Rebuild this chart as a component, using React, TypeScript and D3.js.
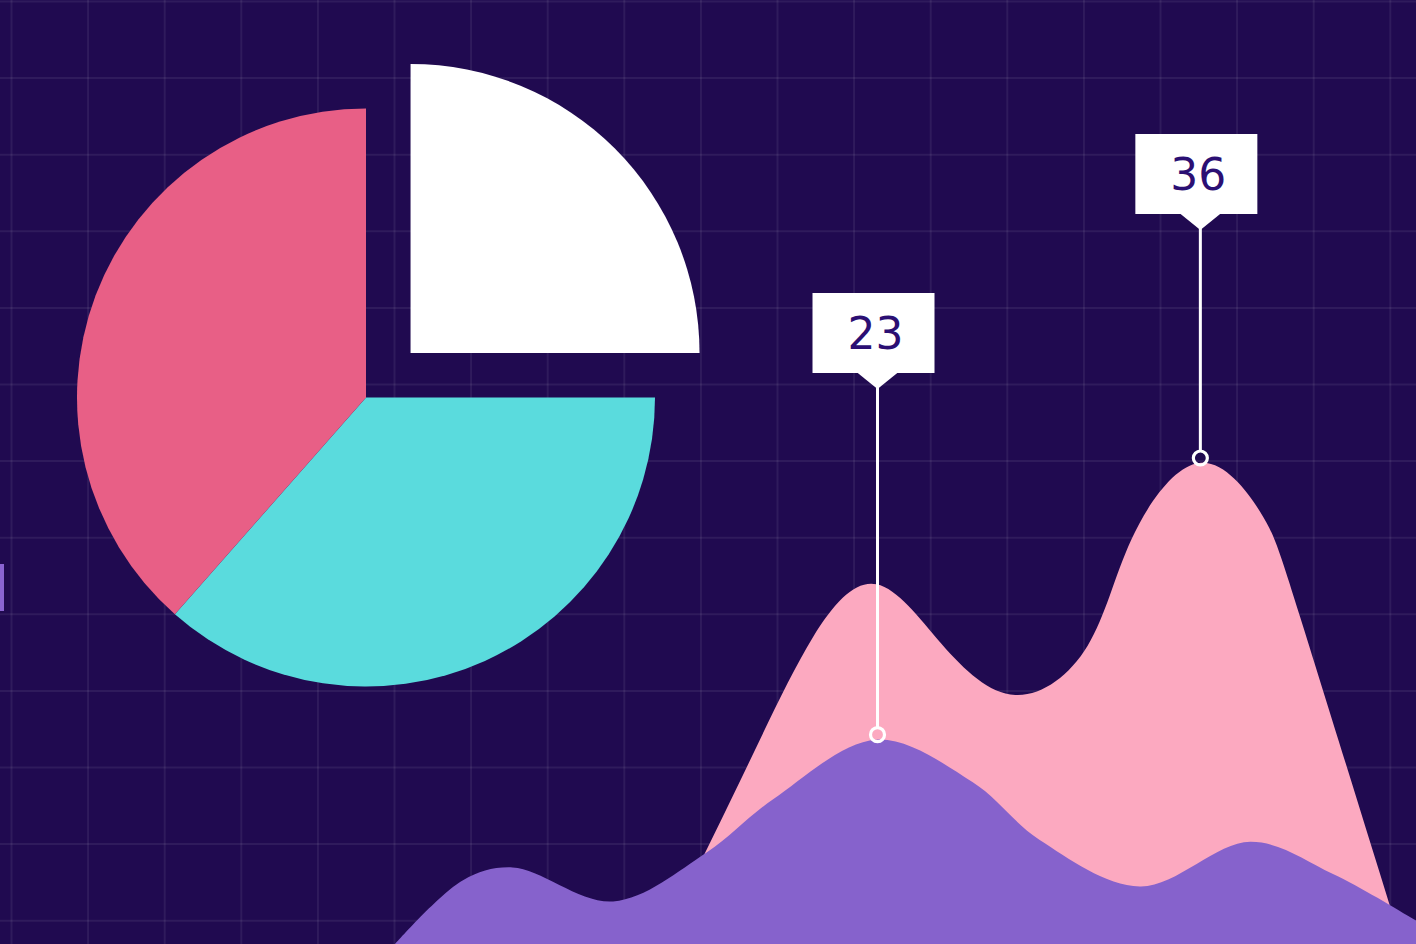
import * as d3 from 'd3';

const WIDTH = 1416;
const HEIGHT = 944;

// pie shares, clockwise from 12 o'clock
const pieNames = ['A', 'B', 'C'];
const pieValues = [25, 36.5, 38.5];
const pieColors = ['#ffffff', '#5adbdd', '#e85f86'];

// area series: x in % of width, y in value units
const pinkX = [46.6, 52.3, 57.4, 61.9, 66.5, 71.7, 76.8, 79.9, 84.7, 89.0, 91.8, 99.0];
const pinkY = [13.4, 21.1, 27.8, 30.3, 27.5, 25.1, 27.4, 32.4, 36, 33.7, 28.8, 13.4];
const purpleX = [27.9, 32.7, 36.2, 43.3, 49.9, 54.6, 61.9, 68.7, 73.4, 80.5, 88.3, 94.1, 100, 101.7];
const purpleY = [13.4, 16.4, 17.0, 15.4, 17.7, 20.2, 23.0, 21.0, 18.3, 16.1, 18.2, 16.7, 14.5, 13.8];

// callouts point at a series peak
const callouts = [
  { series: 'purple', index: 6 },
  { series: 'pink', index: 8 },
];

const BG = '#200a50';
const GRID = 'rgba(255,255,255,0.07)';
const TEXT = '#2b0f73';

type Pt = { x: number; y: number };

export default function App() {
  const x = d3.scaleLinear().domain([0, 100]).range([0, WIDTH]);
  const y = d3.scaleLinear().domain([13.4, 36]).range([HEIGHT, 463]);

  const pink: Pt[] = pinkX.map((v, i) => ({ x: v, y: pinkY[i] }));
  const purple: Pt[] = purpleX.map((v, i) => ({ x: v, y: purpleY[i] }));
  const seriesMap: Record<string, Pt[]> = { pink, purple };

  const area = (curve: d3.CurveFactory) =>
    d3
      .area<Pt>()
      .x((d) => x(d.x))
      .y0(HEIGHT)
      .y1((d) => y(d.y))
      .curve(curve);

  // grid
  const step = 76.6;
  const vLines = d3.range(11.5, WIDTH, step);
  const hLines = d3.range(1.5, HEIGHT, step);

  // pie
  const cx = 366;
  const cy = 397.5;
  const radius = 289;
  const pie = d3.pie<number>().sort(null).value((d) => d);
  const arcs = pie(pieValues);
  const arc = d3.arc<d3.PieArcDatum<number>>().innerRadius(0).outerRadius(radius);
  const explode = 63;

  const labelTops = [293, 134];
  const boxW = 122;
  const boxH = 80;

  return (
    <svg
      width={WIDTH}
      height={HEIGHT}
      style={{ position: 'absolute', left: 0, top: 0, display: 'block' }}
    >
      <rect width={WIDTH} height={HEIGHT} fill={BG} />
      <g>
        {vLines.map((v) => (
          <line key={'v' + v} x1={v} x2={v} y1={0} y2={HEIGHT} stroke={GRID} strokeWidth={2} />
        ))}
        {hLines.map((h) => (
          <line key={'h' + h} x1={0} x2={WIDTH} y1={h} y2={h} stroke={GRID} strokeWidth={2} />
        ))}
      </g>

      <rect x={0} y={564} width={4} height={47} fill="#8a63d2" />

      <g transform={`translate(${cx},${cy})`}>
        {arcs.map((a, i) => {
          const mid = (a.startAngle + a.endAngle) / 2;
          const off = i === 0 ? explode : 0;
          const dx = Math.sin(mid) * off;
          const dy = -Math.cos(mid) * off;
          return (
            <path
              key={pieNames[i]}
              d={arc(a) || ''}
              fill={pieColors[i]}
              transform={`translate(${dx},${dy})`}
            />
          );
        })}
      </g>

      <path d={area(d3.curveNatural)(pink) || ''} fill="#fca9c0" />
      <path d={area(d3.curveCatmullRom.alpha(0.5))(purple) || ''} fill="#8662cc" />

      {callouts.map((c, i) => {
        const d = seriesMap[c.series][c.index];
        const px = x(d.x) + 1;
        const py = y(d.y) - 5;
        const top = labelTops[i];
        const apex = top + boxH + 16;
        const bx = px - 4 - boxW / 2;
        return (
          <g key={i}>
            <line x1={px} x2={px} y1={apex - 2} y2={py - 7} stroke="#fff" strokeWidth={3} />
            <circle cx={px} cy={py} r={7} fill="none" stroke="#fff" strokeWidth={3.2} />
            <rect x={bx} y={top} width={boxW} height={boxH} fill="#fff" />
            <path d={`M${px - 21},${top + boxH - 1} L${px + 21},${top + boxH - 1} L${px},${apex} Z`} fill="#fff" />
            <text
              x={bx + boxW / 2 + 2}
              y={top + 56}
              textAnchor="middle"
              fontFamily="DejaVu Sans, sans-serif"
              fontSize={44}
              fill={TEXT}
            >
              {Math.round(d.y)}
            </text>
          </g>
        );
      })}
    </svg>
  );
}
